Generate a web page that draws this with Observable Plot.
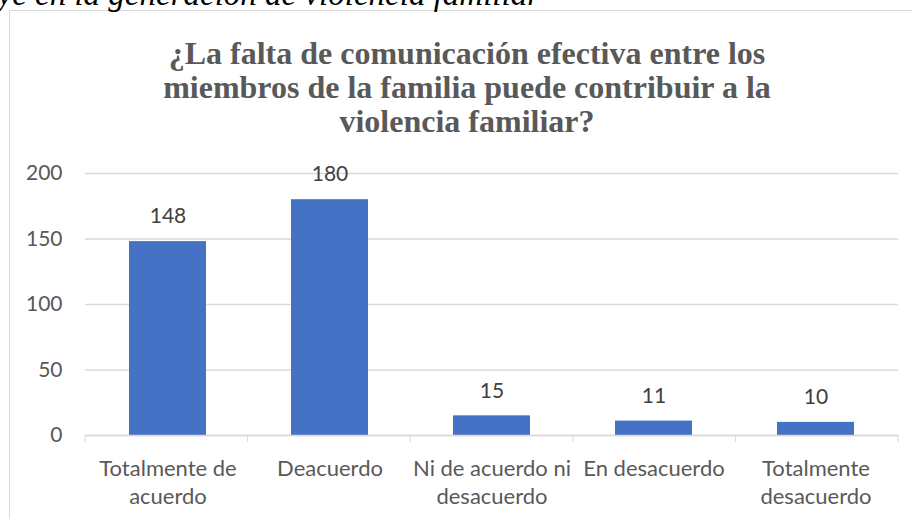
<!DOCTYPE html>
<html>
<head>
<meta charset="utf-8">
<script src="https://cdn.jsdelivr.net/npm/d3@7"></script>
<script src="https://cdn.jsdelivr.net/npm/@observablehq/plot@0.6"></script>
</head>
<body style="margin:0;padding:0;background:#fff;overflow:hidden">
<div id="wrap" style="position:relative;width:912px;height:519px;overflow:hidden;background:#fff">
  <div style="position:absolute;left:9px;top:10px;width:940px;height:540px;border:1px solid #d9d9d9"></div>
  <div id="chart" style="position:absolute;left:0;top:0"></div>
</div>
<script>
const categories = ["Totalmente de acuerdo", "Deacuerdo", "Ni de acuerdo ni desacuerdo", "En desacuerdo", "Totalmente desacuerdo"];
const tickLabels = ["Totalmente de\nacuerdo", "Deacuerdo", "Ni de acuerdo ni\ndesacuerdo", "En desacuerdo", "Totalmente\ndesacuerdo"];
const values = [148, 180, 15, 11, 10];
const yTicks = [0, 50, 100, 150, 200];
const titleText = "¿La falta de comunicación efectiva entre los\nmiembros de la familia puede contribuir a la\nviolencia familiar?";
const topText = "ye en la generación de violencia familiar";

const data = categories.map((c, i) => ({cat: c, label: tickLabels[i], value: values[i]}));
const fontSpecs = ["bold 32px 'Liberation Serif'", "italic 33px 'Liberation Serif'", "22px Lato"];

function touchFonts() {
  const ctx = document.createElement("canvas").getContext("2d");
  fontSpecs.forEach(f => {
    ctx.font = f; ctx.measureText(titleText + topText);
    if (document.fonts && document.fonts.check) document.fonts.check(f);
  });
}

const boundaryTicks = (index, scales, vals, dims) => {
  const g = d3.create("svg:g");
  const n = categories.length;
  const inner = dims.width - dims.marginLeft - dims.marginRight;
  const yb = dims.height - dims.marginBottom;
  for (let i = 0; i <= n; i++) {
    const x = dims.marginLeft + i * inner / n;
    g.append("line").attr("x1", x).attr("x2", x).attr("y1", yb).attr("y2", yb + 7)
      .attr("stroke", "#d9d9d9").attr("stroke-width", 1);
  }
  return g.node();
};

const serif = "'Liberation Serif', 'DejaVu Serif', serif";

function build() {
  return Plot.plot({
    width: 912,
    height: 519,
    marginTop: 173,
    marginBottom: 84,
    marginLeft: 85,
    marginRight: 14,
    style: {fontFamily: "Lato, sans-serif", fontSize: "21px", color: "#595959", background: "transparent", overflow: "visible"},
    x: {domain: categories, paddingInner: 0.524, paddingOuter: 0.262, axis: null},
    y: {domain: [0, 200], axis: null},
    marks: [
      Plot.gridY(yTicks, {stroke: "#d9d9d9", strokeOpacity: 1, strokeWidth: 1.3}),
      Plot.barY(data, {x: "cat", y: "value", fill: "#4472C4"}),
      Plot.ruleY([0], {stroke: "#d9d9d9", strokeWidth: 1.3}),
      boundaryTicks,
      Plot.axisY(yTicks, {tickSize: 0, tickPadding: 23, fill: "#595959", fontSize: 21, label: null}),
      Plot.text(data, {x: "cat", y: "value", text: d => String(d.value), dy: -25, fill: "#404040", fontSize: 21}),
      Plot.text(data, {x: "cat", text: "label", frameAnchor: "bottom", lineAnchor: "top", dy: 20, lineHeight: 1.3, fill: "#595959", fontSize: 22}),
      Plot.text([titleText], {frameAnchor: "top", text: d => d, lineAnchor: "top", dx: -25, dy: -134, lineHeight: 1.07, fontFamily: serif, fontWeight: "bold", fontSize: 32, fill: "#595959"}),
      Plot.text([topText], {frameAnchor: "top-left", text: d => d, textAnchor: "start", lineAnchor: "top", dx: -88, dy: -192, fontFamily: serif, fontStyle: "italic", fontSize: 33, fill: "#000"})
    ]
  });
}

const holder = document.getElementById("chart");
touchFonts();
holder.appendChild(build());
touchFonts();

if (document.fonts && document.fonts.load) {
  Promise.all(fontSpecs.map(f => document.fonts.load(f))).then(() => {
    holder.replaceChildren(build());
    touchFonts();
  }).catch(() => {});
}
</script>
</body>
</html>
